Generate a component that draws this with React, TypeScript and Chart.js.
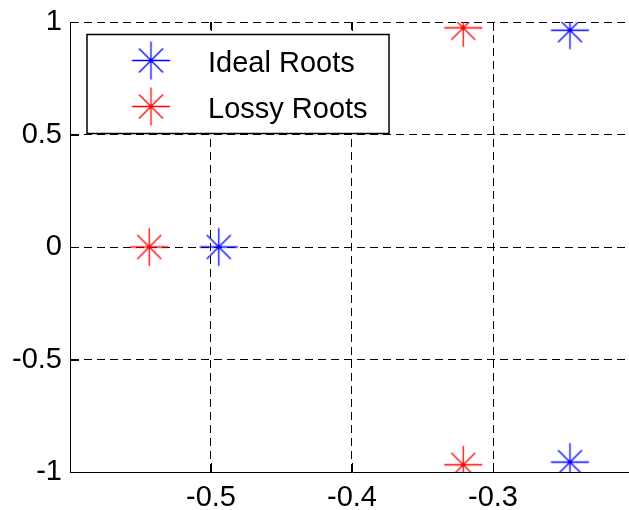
import React, { useEffect, useRef } from 'react';
import { Chart, registerables } from 'chart.js';

Chart.register(...registerables);

// ---- data ----
const seriesLabels = ['Ideal Roots', 'Lossy Roots'];
const seriesColors = ['#0000ff', '#ff0000'];
const idealX = [-0.4945, -0.2454, -0.2454];
const idealY = [0, 0.9635, -0.956];
const lossyX = [-0.5438, -0.3211, -0.3211];
const lossyY = [0, 0.974, -0.968];
const xTicks = [-0.5, -0.4, -0.3];
const yTicks = [-1, -0.5, 0, 0.5, 1];
const xRange = [-0.6, -0.2];
const yRange = [-1, 1];

const FONT_FAMILY = "'Liberation Sans', Arial, Helvetica, sans-serif";
const FONT_SIZE = 29;

function makeStar(color: string): HTMLCanvasElement {
  const c = document.createElement('canvas');
  const s = 41;
  c.width = s;
  c.height = s;
  const g = c.getContext('2d')!;
  const m = s / 2;
  const r = 19;
  const d = 12;
  g.strokeStyle = color;
  g.lineWidth = 1.3;
  g.beginPath();
  g.moveTo(m, m - r);
  g.lineTo(m, m + r);
  g.moveTo(m - r, m);
  g.lineTo(m + r, m);
  g.moveTo(m - d, m - d);
  g.lineTo(m + d, m + d);
  g.moveTo(m - d, m + d);
  g.lineTo(m + d, m - d);
  g.stroke();
  return c;
}

const innerTicks = {
  id: 'innerTicks',
  beforeDatasetsDraw(chart: any) {
    const { ctx, chartArea: ca, scales } = chart;
    const len = 9;
    ctx.save();
    ctx.strokeStyle = '#000';
    ctx.lineWidth = 1;
    ctx.beginPath();
    xTicks.forEach((v) => {
      const px = Math.round(scales.x.getPixelForValue(v)) + 0.5;
      ctx.moveTo(px, ca.bottom);
      ctx.lineTo(px, ca.bottom - len);
      ctx.moveTo(px, ca.top);
      ctx.lineTo(px, ca.top + len);
    });
    yTicks.forEach((v) => {
      const py = Math.round(scales.y.getPixelForValue(v)) + 0.5;
      ctx.moveTo(ca.left, py);
      ctx.lineTo(ca.left + len, py);
    });
    ctx.stroke();
    ctx.restore();
  },
};

const boxLegend = {
  id: 'boxLegend',
  afterDraw(chart: any) {
    const { ctx, chartArea: ca } = chart;
    const bx = ca.left + 17;
    const by = ca.top + 12.5;
    const bw = 302;
    const bh = 99;
    ctx.save();
    ctx.fillStyle = '#fff';
    ctx.fillRect(bx, by, bw, bh);
    ctx.strokeStyle = '#000';
    ctx.lineWidth = 1.5;
    ctx.strokeRect(bx, by, bw, bh);
    chart.data.datasets.forEach((ds: any, i: number) => {
      const rowY = by + 26 + i * 46;
      const img = ds.pointStyle as HTMLCanvasElement;
      ctx.drawImage(img, bx + 64 - img.width / 2, rowY - img.height / 2);
      ctx.fillStyle = '#000';
      ctx.font = `${FONT_SIZE}px ${FONT_FAMILY}`;
      ctx.textAlign = 'left';
      ctx.textBaseline = 'middle';
      ctx.fillText(ds.label, bx + 121, rowY + 3);
    });
    ctx.restore();
  },
};

export default function App() {
  const ref = useRef<HTMLCanvasElement | null>(null);

  useEffect(() => {
    if (!ref.current) return;
    const font = { family: FONT_FAMILY, size: FONT_SIZE };
    const chart = new Chart(ref.current, {
      type: 'scatter',
      data: {
        datasets: [
          {
            label: seriesLabels[0],
            data: idealX.map((x, i) => ({ x, y: idealY[i] })),
            borderColor: seriesColors[0],
            backgroundColor: seriesColors[0],
            pointStyle: makeStar(seriesColors[0]) as any,
            pointRadius: 19,
          },
          {
            label: seriesLabels[1],
            data: lossyX.map((x, i) => ({ x, y: lossyY[i] })),
            borderColor: seriesColors[1],
            backgroundColor: seriesColors[1],
            pointStyle: makeStar(seriesColors[1]) as any,
            pointRadius: 19,
          },
        ],
      },
      options: {
        animation: false,
        responsive: false,
        devicePixelRatio: 1,
        layout: { autoPadding: false, padding: { top: 22, right: 6, left: 0, bottom: 0 } },
        plugins: {
          legend: { display: false },
          tooltip: { enabled: false },
          title: { display: false },
        },
        scales: {
          x: {
            type: 'linear',
            min: xRange[0],
            max: xRange[1],
            afterBuildTicks: (s: any) => {
              s.ticks = xTicks.map((value) => ({ value }));
            },
            afterFit: (s: any) => {
              s.height = 38;
              s.paddingLeft = 0;
              s.paddingRight = 0;
              s.paddingTop = 0;
              s.paddingBottom = 0;
            },
            ticks: {
              font,
              color: '#000',
              padding: 9,
              maxRotation: 0,
              autoSkip: false,
              callback: (v: any) => String(v),
            },
            grid: { color: '#000', lineWidth: 1, drawTicks: false },
            border: { display: true, color: '#000', width: 1, dash: [8, 5] },
          },
          y: {
            type: 'linear',
            min: yRange[0],
            max: yRange[1],
            afterBuildTicks: (s: any) => {
              s.ticks = yTicks.map((value) => ({ value }));
            },
            afterFit: (s: any) => {
              s.width = 70;
              s.paddingLeft = 0;
              s.paddingRight = 0;
              s.paddingTop = 0;
              s.paddingBottom = 0;
            },
            ticks: {
              font,
              color: '#000',
              padding: 8,
              autoSkip: false,
              callback: (v: any) => String(v),
            },
            grid: { color: '#000', lineWidth: 1, drawTicks: false },
            border: { display: true, color: '#000', width: 1, dash: [8, 5] },
          },
        },
      },
      plugins: [innerTicks, boxLegend],
    });
    return () => chart.destroy();
  }, []);

  return (
    <canvas
      ref={ref}
      width={640}
      height={510}
      style={{ position: 'fixed', left: 0, top: 0, display: 'block', width: 640, height: 510 }}
    />
  );
}
